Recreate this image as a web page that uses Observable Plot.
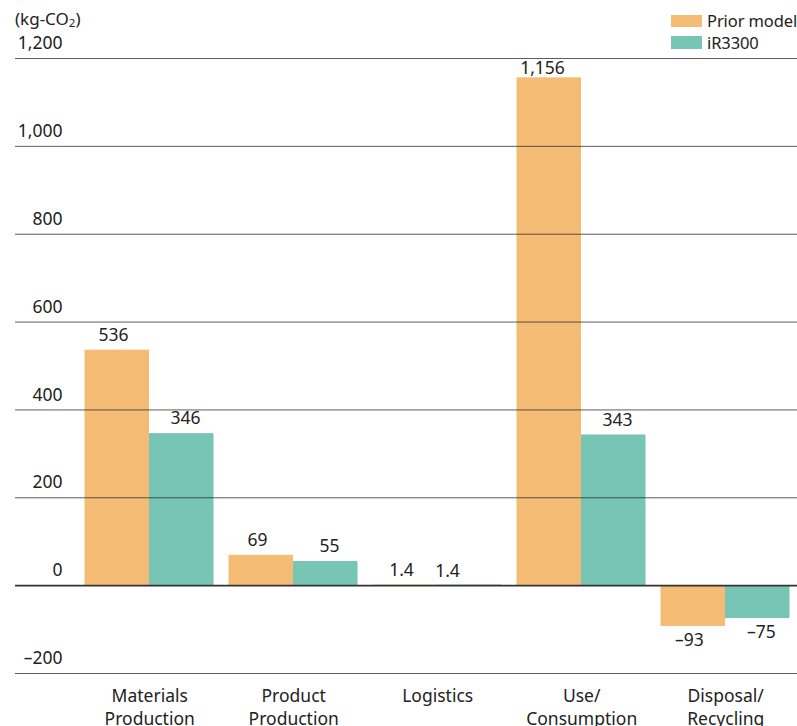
<!DOCTYPE html>
<html>
<head>
<meta charset="utf-8">
<script src="https://cdn.jsdelivr.net/npm/d3@7"></script>
<script src="https://cdn.jsdelivr.net/npm/@observablehq/plot@0.6"></script>
<style>
  body { margin: 0; background: #fff; font-family: "Noto Sans", sans-serif; color: #222; }
  #wrap { position: relative; width: 797px; height: 726px; overflow: hidden; }
  #unit { position: absolute; left: 15px; top: 9px; font-size: 17px; line-height: 20px; }
  #unit sub { font-size: 11.5px; vertical-align: -2px; line-height: 0; }
  #legend { position: absolute; left: 671px; top: 10px; font-size: 16.5px; white-space: nowrap; letter-spacing: -0.1px; }
  .row { display: flex; align-items: center; height: 21.5px; line-height: 21.5px; }
  .sw { width: 31px; height: 12.5px; margin-right: 5px; flex: none; }
</style>
</head>
<body>
<div id="wrap">
  <div id="chart"></div>
  <div id="unit">(kg-CO<sub>2</sub>)</div>
  <div id="legend"></div>
</div>
<script>
// Life-cycle CO2 emissions per stage, prior model vs. iR3300
const categories = ["Materials\nProduction", "Product\nProduction", "Logistics", "Use/\nConsumption", "Disposal/\nRecycling"];
const series = ["Prior model", "iR3300"];
const priorValues = [536, 69, 1.4, 1156, -93];
const ir3300Values = [346, 55, 1.4, 343, -75];
const yTicks = [-200, 0, 200, 400, 600, 800, 1000, 1200];
const colors = ["#F5BC76", "#77C5B4"];

const rows = categories.flatMap((c, i) => [
  {category: c, series: series[0], value: priorValues[i]},
  {category: c, series: series[1], value: ir3300Values[i]}
]);
const key = d => d.category + "|" + d.series;
const keys = rows.map(key);

const fmt = v => d3.format(",")(v).replace("−", "–");
const inPrior = rows.filter(d => d.series === series[0]);
const inNew = rows.filter(d => d.series === series[1]);

// value labels: above positive bars, below negative ones; the tallest sits
// tucked under the top gridline, and tiny second-series labels nudge left
const tall = d => d.value > 1100;
const tiny = d => d.series === series[1] && Math.abs(d.value) < 10;
const above = rows.filter(d => d.value >= 0);

const chart = Plot.plot({
  width: 797,
  height: 726,
  marginLeft: 15,
  marginRight: 0,
  marginTop: 58,
  marginBottom: 53,
  style: {fontFamily: "'Noto Sans', sans-serif", fontSize: "17.5px", color: "#222", background: "#fff"},
  x: {type: "band", domain: keys, range: [75.5, 798.5], padding: 0, axis: null},
  y: {domain: [-200, 1200], axis: null},
  marks: [
    Plot.barY(inPrior, {x: key, y: "value", fill: colors[0], insetLeft: 7.5, insetRight: 0}),
    Plot.barY(inNew, {x: key, y: "value", fill: colors[1], insetLeft: 0, insetRight: 7.5}),
    Plot.ruleY(yTicks.filter(d => d !== 0), {stroke: "#333", strokeOpacity: 0.8}),
    Plot.ruleY([0], {stroke: "#333", strokeWidth: 1.6}),
    Plot.text(yTicks, {y: d => d, text: fmt, frameAnchor: "left", dx: 47, dy: -15, textAnchor: "end", fill: "#222"}),
    Plot.text(above.filter(d => !tall(d) && !tiny(d)), {x: key, y: "value", text: d => fmt(d.value), dy: -15, fill: "#222"}),
    Plot.text(above.filter(tall), {x: key, y: "value", text: d => fmt(d.value), dx: -3, dy: -9, fill: "#222"}),
    Plot.text(above.filter(tiny), {x: key, y: "value", text: d => fmt(d.value), dx: -26, dy: -14, fill: "#222"}),
    Plot.text(rows.filter(d => d.value < 0), {x: key, y: "value", text: d => fmt(d.value), dy: 14, fill: "#222"}),
    Plot.text(inPrior, {x: key, text: "category", frameAnchor: "bottom", lineAnchor: "top", dx: 36.2, dy: 12, lineHeight: 1.33, fill: "#222"})
  ]
});
document.getElementById("chart").append(chart);

const legend = document.getElementById("legend");
series.forEach((s, i) => {
  const row = document.createElement("div");
  row.className = "row";
  const sw = document.createElement("div");
  sw.className = "sw";
  sw.style.background = colors[i];
  const label = document.createElement("span");
  label.textContent = s;
  row.append(sw, label);
  legend.append(row);
});
</script>
</body>
</html>
